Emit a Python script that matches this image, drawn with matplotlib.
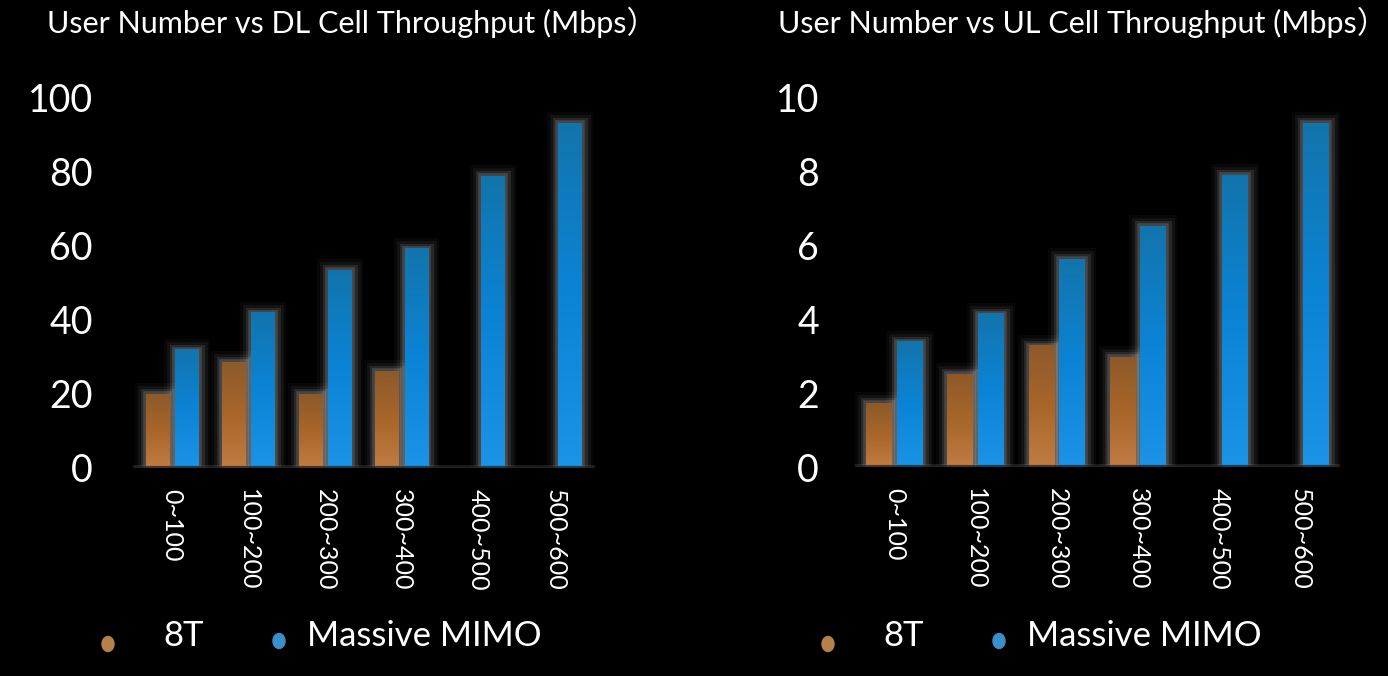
import matplotlib
matplotlib.use('Agg')
import matplotlib.pyplot as plt
import numpy as np
from matplotlib import patheffects as pe
from matplotlib.colors import LinearSegmentedColormap
from matplotlib.patches import Ellipse

plt.rcParams['font.family'] = ['Lato', 'Noto Sans CJK SC', 'DejaVu Sans']

categories = ['0~100', '100~200', '200~300', '300~400', '400~500', '500~600']
dl_8t = [20.0, 28.6, 20.0, 26.2, np.nan, np.nan]
dl_mimo = [31.9, 41.9, 53.5, 59.2, 78.9, 93.2]
ul_8t = [1.73, 2.52, 3.28, 2.98, np.nan, np.nan]
ul_mimo = [3.39, 4.15, 5.63, 6.53, 7.90, 9.32]

dl_ticks = [0, 20, 40, 60, 80, 100]
ul_ticks = [0, 2, 4, 6, 8, 10]

cmap_orange = LinearSegmentedColormap.from_list('o', ['#c07c42', '#a9662a', '#8d5a2a'])
cmap_blue = LinearSegmentedColormap.from_list('b', ['#1b94e8', '#0b84d6', '#1274ac'])
grad = np.linspace(0, 1, 256).reshape(-1, 1)

glow = [pe.Stroke(linewidth=16, foreground='white', alpha=0.03),
        pe.Stroke(linewidth=12, foreground='white', alpha=0.05),
        pe.Stroke(linewidth=8, foreground='white', alpha=0.09),
        pe.Stroke(linewidth=4, foreground='white', alpha=0.14),
        pe.Normal()]


def gradient_bars(ax, x, vals, width, cmap):
    vals = np.array(vals, dtype=float)
    mask = ~np.isnan(vals)
    bars = ax.bar(x[mask], vals[mask], width, color='#555555', zorder=2)
    for p in bars:
        p.set_path_effects(glow)
        x0, w, h = p.get_x(), p.get_width(), p.get_height()
        ax.imshow(grad, extent=[x0, x0 + w, 0, h], origin='lower', aspect='auto',
                  cmap=cmap, zorder=3, interpolation='bicubic')


def panel(rect, s8t, smimo, ticks, title, title_x, pad, width, xlim):
    ax = fig.add_axes(rect)
    ax.set_facecolor('black')
    x = np.arange(len(categories))
    gradient_bars(ax, x - 0.19, s8t, width, cmap_orange)
    gradient_bars(ax, x + 0.19, smimo, width, cmap_blue)
    ax.axhline(0, color='#1e1e1e', lw=3, zorder=4, alpha=0.75)
    ax.axhline(0, color='#888888', lw=1, zorder=1, alpha=0.8,
               path_effects=[pe.Stroke(linewidth=5, foreground='#555555', alpha=0.3), pe.Normal()])
    ax.set_xlim(*xlim)
    ax.set_ylim(0, ticks[-1])
    ax.set_yticks(ticks)
    ax.set_yticklabels([str(t) for t in ticks], fontsize=27, color='white')
    ax.set_xticks(x)
    ax.set_xticklabels(categories, rotation=270, fontsize=18, color='white')
    ax.tick_params(axis='y', length=0, pad=pad)
    ax.tick_params(axis='x', length=0, pad=15)
    for s in ax.spines.values():
        s.set_visible(False)
    fig.text(title_x / 1388, 1 - 22 / 676, title, color='white', fontsize=22, va='center')
    return ax


fig = plt.figure(figsize=(13.88, 6.76), dpi=100, facecolor='black')

panel([133 / 1388, 1 - 468 / 676, (595 - 133) / 1388, (468 - 98) / 676],
      dl_8t, dl_mimo, dl_ticks, 'User Number vs DL Cell Throughput (Mbps）', 47, 29, 0.31, (-0.51, 5.52))
panel([855 / 1388, 1 - 467 / 676, (1340 - 855) / 1388, (467 - 98) / 676],
      ul_8t, ul_mimo, ul_ticks, 'User Number vs UL Cell Throughput (Mbps）', 778, 26, 0.32, (-0.49, 5.49))

# legends
for ox in [0, 720]:
    for ex, ey, col, tx, label in [(108, 644, '#b5804a', 163, '8T'),
                                   (279, 641, '#3a90c8', 307, 'Massive MIMO')]:
        fig.add_artist(Ellipse(((ex + ox) / 100, (676 - ey) / 100), 0.12, 0.15,
                               color=col, transform=fig.dpi_scale_trans))
        fig.text((tx + ox) / 1388, 1 - 636 / 676, label, color='white', fontsize=25, va='center')

fig.savefig('out.png', dpi=100, facecolor='black')
